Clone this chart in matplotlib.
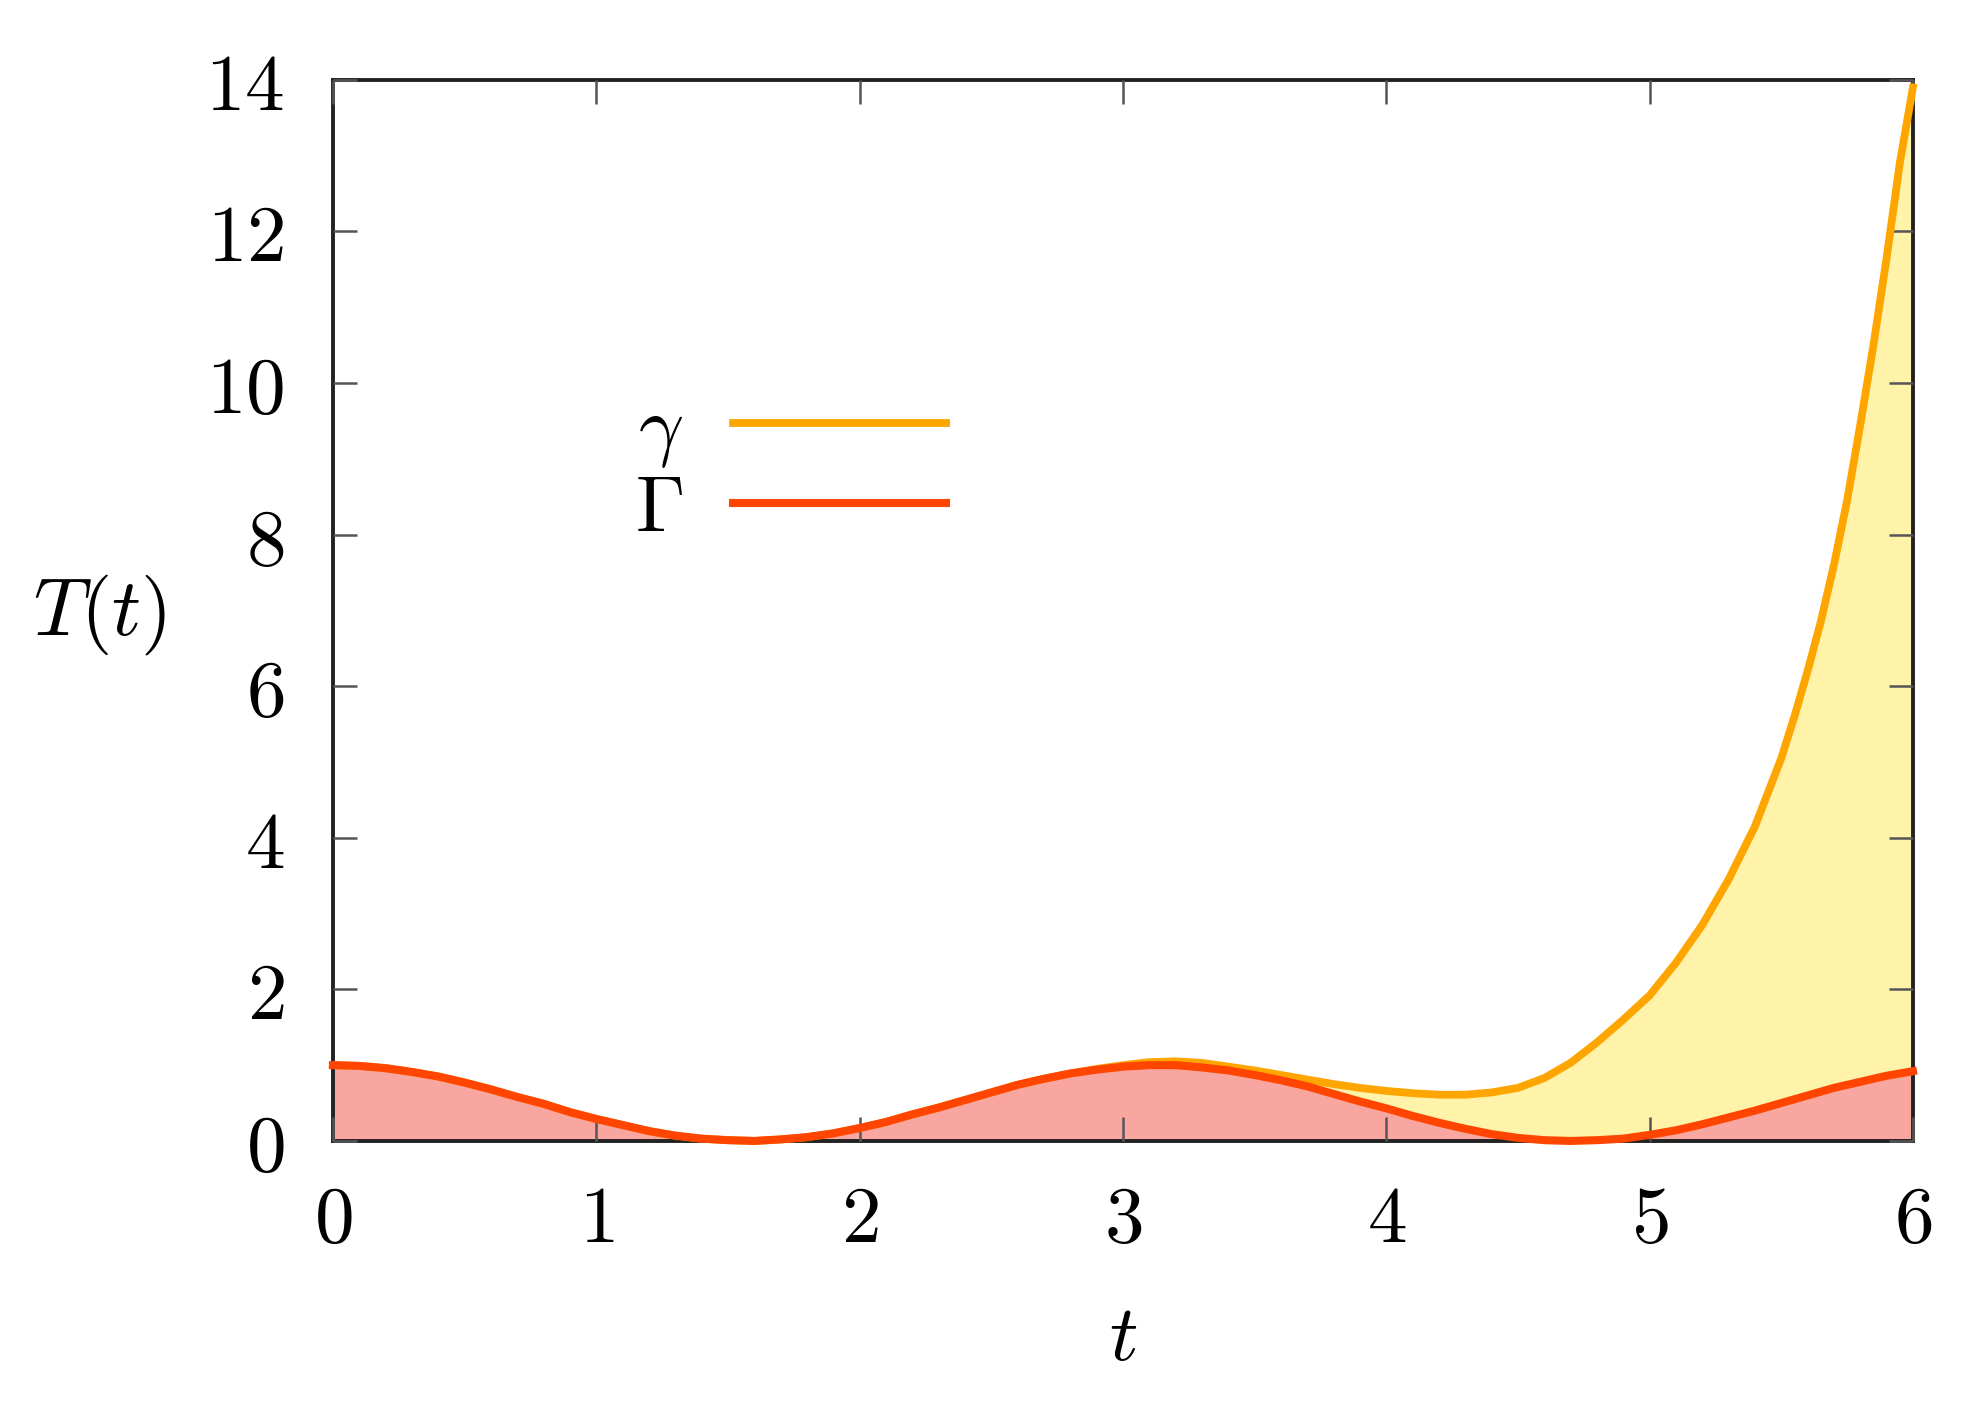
import numpy as np
import matplotlib
matplotlib.use("Agg")
import matplotlib.pyplot as plt

# values
t = [0.0, 0.1, 0.2, 0.3, 0.4, 0.5, 0.6, 0.7, 0.8, 0.9,
     1.0, 1.1, 1.2, 1.3, 1.4, 1.5, 1.6, 1.7, 1.8, 1.9,
     2.0, 2.1, 2.2, 2.3, 2.4, 2.5, 2.6, 2.7, 2.8, 2.9,
     3.0, 3.1, 3.2, 3.3, 3.4, 3.5, 3.6, 3.7, 3.8, 3.9,
     4.0, 4.1, 4.2, 4.3, 4.4, 4.5, 4.6, 4.7, 4.8, 4.9,
     5.0, 5.1, 5.2, 5.3, 5.4, 5.5, 5.6, 5.7, 5.8, 5.9, 6.0]

Gamma_big = [1.00, 0.99, 0.96, 0.91, 0.85, 0.77, 0.68, 0.58, 0.49, 0.38,
             0.29, 0.21, 0.13, 0.07, 0.03, 0.01, 0.00, 0.02, 0.05, 0.10,
             0.17, 0.25, 0.35, 0.44, 0.54, 0.64, 0.74, 0.82, 0.89, 0.94,
             0.98, 1.00, 1.00, 0.97, 0.93, 0.87, 0.80, 0.72, 0.62, 0.52,
             0.43, 0.33, 0.24, 0.16, 0.09, 0.04, 0.01, 0.00, 0.01, 0.03,
             0.08, 0.14, 0.22, 0.31, 0.40, 0.50, 0.60, 0.70, 0.78, 0.86, 0.92]

# gamma has a few extra samples where it climbs steeply
t_gamma = [0.0, 0.1, 0.2, 0.3, 0.4, 0.5, 0.6, 0.7, 0.8, 0.9,
           1.0, 1.1, 1.2, 1.3, 1.4, 1.5, 1.6, 1.7, 1.8, 1.9,
           2.0, 2.1, 2.2, 2.3, 2.4, 2.5, 2.6, 2.7, 2.8, 2.9,
           3.0, 3.1, 3.2, 3.3, 3.4, 3.5, 3.6, 3.7, 3.8, 3.9,
           4.0, 4.1, 4.2, 4.3, 4.4, 4.5, 4.6, 4.7, 4.8, 4.9,
           5.0, 5.1, 5.2, 5.3, 5.4, 5.5, 5.55, 5.6, 5.65, 5.7,
           5.75, 5.8, 5.85, 5.9, 5.95, 6.0]

gamma_small = [1.00, 0.99, 0.96, 0.91, 0.85, 0.77, 0.68, 0.58, 0.49, 0.38,
               0.29, 0.21, 0.13, 0.07, 0.03, 0.01, 0.00, 0.02, 0.05, 0.10,
               0.17, 0.25, 0.35, 0.44, 0.54, 0.64, 0.74, 0.82, 0.89, 0.95,
               1.00, 1.04, 1.05, 1.03, 0.98, 0.93, 0.87, 0.81, 0.75, 0.70,
               0.66, 0.63, 0.61, 0.61, 0.64, 0.70, 0.83, 1.03, 1.30, 1.60,
               1.92, 2.35, 2.85, 3.45, 4.15, 5.05, 5.60, 6.20, 6.85, 7.60,
               8.45, 9.45, 10.50, 11.65, 12.90, 13.90]

xticks = [0, 1, 2, 3, 4, 5, 6]
yticks = [0, 2, 4, 6, 8, 10, 12, 14]

plt.rcParams['mathtext.fontset'] = 'cm'
plt.rcParams['font.family'] = 'serif'
plt.rcParams['font.serif'] = ['DejaVu Serif']

fig = plt.figure(figsize=(19.63, 14.11), dpi=100)
ax = fig.add_axes([0.1696, 0.1914, 0.8049, 0.752])
ax.set_axisbelow(False)

ax.fill_between(t_gamma, 0, gamma_small, color="#FFF3AA", lw=0, zorder=1)
ax.fill_between(t, 0, Gamma_big, color="#F9A6A0", lw=0, zorder=2)
ax.plot(t_gamma, gamma_small, color="#FFA500", lw=5.6, label=r"$\gamma$",
        zorder=3, clip_on=False, solid_joinstyle="round")
ax.plot(t, Gamma_big, color="#FF4500", lw=5.8, label=r"$\Gamma$",
        zorder=4, clip_on=False, solid_joinstyle="round")

ax.set_xlim(0, 6)
ax.set_ylim(0, 14)
ax.set_xticks(xticks)
ax.set_yticks(yticks)
ax.set_xticklabels([r"$%d$" % v for v in xticks])
ax.set_yticklabels([r"$%d$" % v for v in yticks])
ax.tick_params(direction="in", length=17, width=1.8, color="#555555",
               top=True, right=True, labelsize=57)
ax.tick_params(axis="x", pad=30)
ax.tick_params(axis="y", pad=35)
for s in ax.spines.values():
    s.set_linewidth(2.8)
    s.set_color("#222222")

ax.set_xlabel(r"$t$", size=57, labelpad=30)
ax.set_ylabel(r"$T(t)$", size=58, rotation=0, va="center", ha="center")
ax.yaxis.set_label_coords(-0.148, 0.496)

ax.legend(loc="upper left", bbox_to_anchor=(0.191, 0.707), frameon=False,
          markerfirst=False, fontsize=57, handlelength=2.7,
          handletextpad=0.63, labelspacing=0.02, borderpad=0, borderaxespad=0)

plt.savefig("out.png", dpi=100)
